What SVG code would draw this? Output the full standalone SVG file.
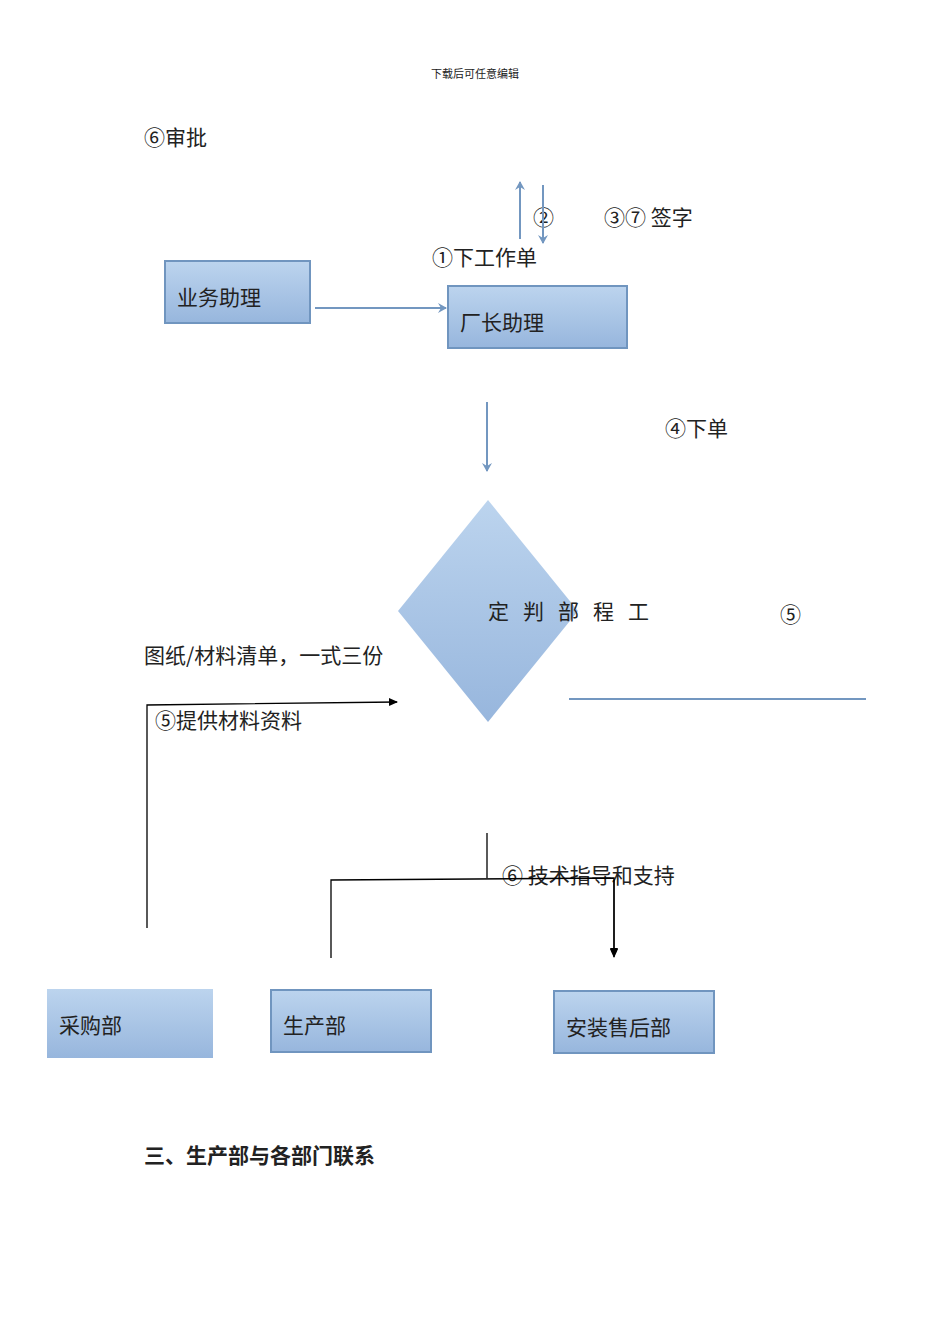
<svg xmlns="http://www.w3.org/2000/svg" width="950" height="1344" viewBox="0 0 950 1344">
<style>
text{font-family:"Noto Sans CJK SC","Liberation Sans",sans-serif;fill:#222}
.t{font-size:21px}
.box{fill:url(#g);stroke:#7095bf;stroke-width:2}
.bl{stroke:#7397c0;stroke-width:2;fill:none}
.bk{stroke:#000;stroke-width:1.3;fill:none}
</style>
<defs>
<linearGradient id="g" x1="0" y1="0" x2="0" y2="1"><stop offset="0" stop-color="#bcd4ee"/><stop offset="1" stop-color="#97b6dd"/></linearGradient>
<marker id="ab" markerWidth="10" markerHeight="10" refX="8" refY="5" orient="auto" markerUnits="userSpaceOnUse"><path d="M0,0L9,5L0,10L3,5z" fill="#7397c0"/></marker>
<marker id="ak" markerWidth="10" markerHeight="10" refX="8" refY="5" orient="auto" markerUnits="userSpaceOnUse"><path d="M0,1L9,5L0,9z" fill="#000"/></marker>
</defs>
<text x="475" y="78" font-size="11" text-anchor="middle" font-family="Liberation Serif,serif">下载后可任意编辑</text>
<text x="144" y="145" class="t">⑥审批</text>
<text x="533" y="225" class="t">②</text>
<text x="604" y="225" class="t">③⑦ 签字</text>
<text x="432" y="265" class="t">①下工作单</text>
<text x="665" y="436" class="t">④下单</text>
<text x="780" y="622" class="t">⑤</text>
<text x="144" y="663" class="t">图纸/材料清单，一式三份</text>
<text x="155" y="728" class="t">⑤提供材料资料</text>
<text x="502" y="883" class="t">⑥ 技术指导和支持</text>
<text x="144" y="1163" class="t" font-weight="bold">三、生产部与各部门联系</text>
<g id="n1"><rect class="box" x="165" y="261" width="145" height="62"/><text x="177" y="305" class="t">业务助理</text></g>
<g id="n2"><rect class="box" x="448" y="286" width="179" height="62"/><text x="460" y="330" class="t">厂长助理</text></g>
<g id="n3"><path d="M488,500L578,611L488,722L398,611z" fill="url(#g)"/><text x="488" y="619" class="t" letter-spacing="14">定判部程工</text></g>
<g id="n4"><rect x="47" y="989" width="166" height="69" fill="url(#g)"/><text x="59" y="1033" class="t">采购部</text></g>
<g id="n5"><rect class="box" x="271" y="990" width="160" height="62"/><text x="283" y="1033" class="t">生产部</text></g>
<g id="n6"><rect class="box" x="554" y="991" width="160" height="62"/><text x="566" y="1035" class="t">安装售后部</text></g>
<g id="edges">
<path class="bl" d="M315,308H446" marker-end="url(#ab)"/>
<path class="bl" d="M520,239V182" marker-end="url(#ab)"/>
<path class="bl" d="M543,185V243" marker-end="url(#ab)"/>
<path class="bl" d="M487,402V471" marker-end="url(#ab)"/>
<path class="bl" d="M569,699H866"/>
<path class="bk" d="M147,928V705L397,702" marker-end="url(#ak)"/>
<path class="bk" d="M487,833V878"/>
<path class="bk" d="M331,958V880L614,878V957" marker-end="url(#ak)"/>
<path class="bk" d="M614,880V956" marker-end="url(#ak)"/>
</g>
</svg>
